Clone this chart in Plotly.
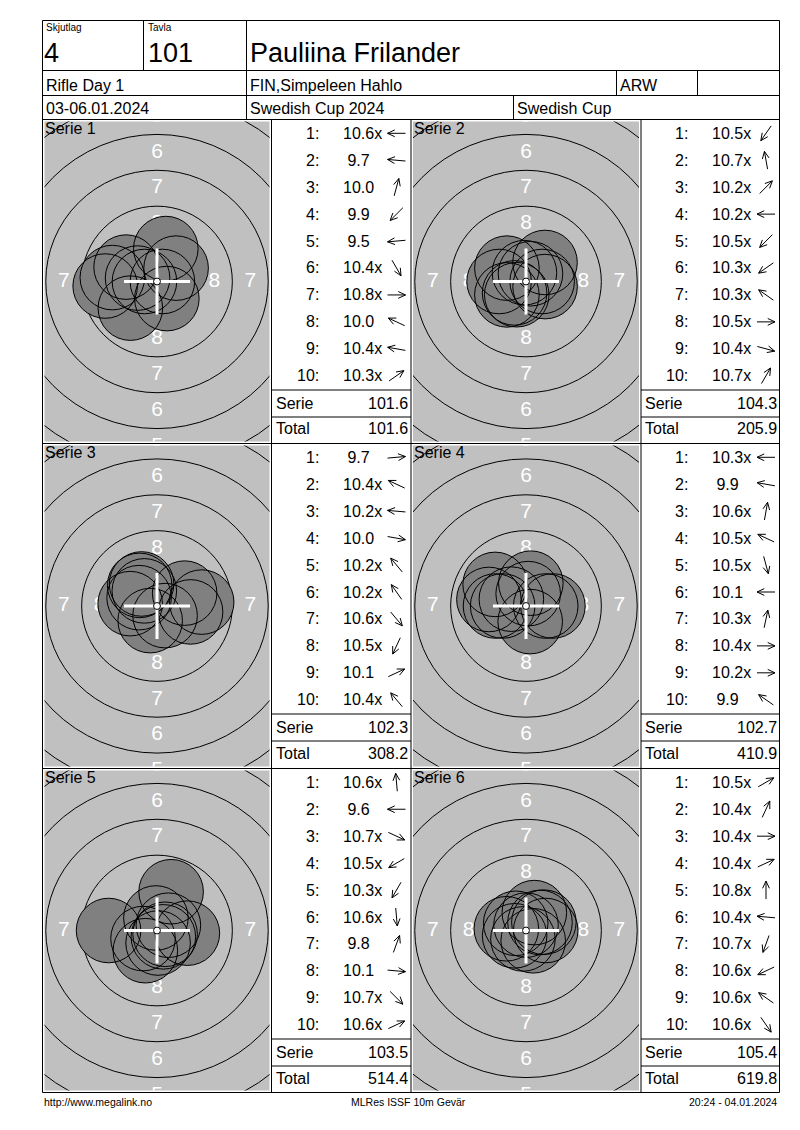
import math
import plotly.graph_objects as go

FONT = "Liberation Sans, Arial, sans-serif"

# ---------------- data ----------------
squad_label = "Skjutlag"
squad = "4"
target_label = "Tavla"
target_no = "101"
shooter = "Pauliina Frilander"
event = "Rifle Day 1"
club = "FIN,Simpeleen Hahlo"
shooter_class = "ARW"
dates = "03-06.01.2024"
competition = "Swedish Cup 2024"
cup = "Swedish Cup"
footer_left = "http://www.megalink.no"
footer_mid = "MLRes ISSF 10m Gevär"
footer_right = "20:24 - 04.01.2024"

series_names = ["Serie 1", "Serie 2", "Serie 3", "Serie 4", "Serie 5", "Serie 6"]

scores_s1 = ["10.6x", "9.7", "10.0", "9.9", "9.5", "10.4x", "10.8x", "10.0", "10.4x", "10.3x"]
scores_s2 = ["10.5x", "10.7x", "10.2x", "10.2x", "10.5x", "10.3x", "10.3x", "10.5x", "10.4x", "10.7x"]
scores_s3 = ["9.7", "10.4x", "10.2x", "10.0", "10.2x", "10.2x", "10.6x", "10.5x", "10.1", "10.4x"]
scores_s4 = ["10.3x", "9.9", "10.6x", "10.5x", "10.5x", "10.1", "10.3x", "10.4x", "10.2x", "9.9"]
scores_s5 = ["10.6x", "9.6", "10.7x", "10.5x", "10.3x", "10.6x", "9.8", "10.1", "10.7x", "10.6x"]
scores_s6 = ["10.5x", "10.4x", "10.4x", "10.4x", "10.8x", "10.4x", "10.7x", "10.6x", "10.6x", "10.6x"]

# shot direction (degrees, 0 = right, 90 = up), read from the arrows
angles_s1 = [180, 175, 75, 225, 185, 300, 0, 155, 170, 35]
angles_s2 = [235, 100, 45, 180, 225, 215, 145, 0, 345, 60]
angles_s3 = [5, 155, 175, 350, 130, 125, 310, 245, 25, 130]
angles_s4 = [180, 170, 80, 155, 285, 180, 78, 0, 0, 145]
angles_s5 = [95, 180, 335, 210, 240, 275, 70, 355, 315, 25]
angles_s6 = [30, 65, 0, 25, 90, 175, 250, 205, 145, 305]

serie_sums = ["101.6", "104.3", "102.3", "102.7", "103.5", "105.4"]
running_totals = ["101.6", "205.9", "308.2", "410.9", "514.4", "619.8"]
ring_labels_vertical = [8, 7, 6, 5]
ring_labels_horizontal = [8, 7]

all_scores = [scores_s1, scores_s2, scores_s3, scores_s4, scores_s5, scores_s6]
all_angles = [angles_s1, angles_s2, angles_s3, angles_s4, angles_s5, angles_s6]

# ---------------- geometry (page pixels) ----------------
W, H = 800, 1130
XL, XR = 42.5, 779.5
YT = 20.5
ROWS = [119.5, 443.5, 768.5, 1092.5]
COLS = [(42.5, 271.5, 411.0), (411.0, 641.0, 779.5)]  # target left, table left, table right
SCALE = 14.35  # px per mm
PELLET_R = 2.25  # mm
GRAY = "#c0c0c0"
SHOT = "#808080"


def px(x):
    return x / W


def py(y):
    return 1 - y / H


shapes = []
annotations = []


def hline(x0, x1, y, w=1):
    shapes.append(dict(type="line", xref="paper", yref="paper", x0=px(x0), x1=px(x1),
                       y0=py(y), y1=py(y), line=dict(color="black", width=w)))


def vline(x, y0, y1, w=1):
    shapes.append(dict(type="line", xref="paper", yref="paper", x0=px(x), x1=px(x),
                       y0=py(y0), y1=py(y1), line=dict(color="black", width=w)))


def text(x, y, s, size, anchor="left", color="black"):
    annotations.append(dict(xref="paper", yref="paper", x=px(x), y=py(y), text=s,
                            showarrow=False, xanchor=anchor, yanchor="middle",
                            font=dict(family=FONT, size=size, color=color)))


# header frame
hline(XL, XR, YT)
hline(XL, XR, 70.5)
hline(XL, XR, 95.5)
vline(XL, YT, ROWS[-1])
vline(XR, YT, ROWS[-1])
vline(143.5, YT, 70.5)
vline(246.5, YT, 119.5)
vline(616.5, 70.5, 95.5)
vline(697.5, 70.5, 95.5)
vline(513.5, 95.5, 119.5)

text(44, 28, squad_label, 10)
text(42, 53, squad, 27)
text(146, 28, target_label, 10)
text(146, 53, target_no, 27)
text(248, 53, shooter, 27)
text(44, 85, event, 16)
text(248, 85, club, 16)
text(618, 85, shooter_class, 16)
text(44, 109, dates, 16)
text(248, 109, competition, 16)
text(515, 109, cup, 16)

# footer
text(42, 1102, footer_left, 10.5)
text(408, 1102, footer_mid, 10.5, anchor="center")
text(779, 1102, footer_right, 10.5, anchor="right")

# grid
for r in ROWS:
    hline(XL, XR, r)
for c in COLS:
    vline(c[1], ROWS[0], ROWS[-1])
vline(COLS[1][0], ROWS[0], ROWS[-1])

fig = go.Figure()
layout_axes = {}

for k in range(6):
    row, col = divmod(k, 2)
    tx0, tbl_l, tbl_r = COLS[col]
    top, bot = ROWS[row], ROWS[row + 1]
    # target panel
    x0, x1 = tx0 + 2, tbl_l - 2
    y0, y1 = top + 2, bot - 2
    cx, cy = (tx0 + tbl_l) / 2, (top + bot) / 2
    n = k + 2
    xa, ya = f"xaxis{n}", f"yaxis{n}"
    xr, yr = f"x{n}", f"y{n}"
    layout_axes[xa] = dict(domain=[px(x0), px(x1)], range=[(x0 - cx) / SCALE, (x1 - cx) / SCALE],
                           visible=False, fixedrange=True, anchor=yr)
    layout_axes[ya] = dict(domain=[py(y1), py(y0)], range=[(cy - y1) / SCALE, (cy - y0) / SCALE],
                           visible=False, fixedrange=True, anchor=xr)

    # rings
    for ring in range(1, 10):
        rr = 0.25 + (10 - ring) * 2.5
        shapes.append(dict(type="circle", xref=xr, yref=yr, x0=-rr, x1=rr, y0=-rr, y1=rr,
                           line=dict(color="black", width=1), layer="below"))
    # ring labels
    lx, ly, lt = [], [], []
    for v in ring_labels_vertical:
        rr = 0.25 + (10 - v) * 2.5 - 1.25
        for ddy in (rr, -rr):
            lx.append(0)
            ly.append(ddy)
            lt.append(str(v))
    for v in ring_labels_horizontal:
        rr = 0.25 + (10 - v) * 2.5 - 1.25
        for ddx in (rr, -rr):
            lx.append(ddx)
            ly.append(0)
            lt.append(str(v))
    fig.add_trace(go.Scatter(x=lx, y=ly, text=lt, mode="text", xaxis=xr, yaxis=yr,
                             textfont=dict(family=FONT, size=21, color="white"),
                             cliponaxis=True, hoverinfo="skip", showlegend=False))

    # shots
    centers = []
    for s, a in zip(all_scores[k], all_angles[k]):
        val = float(s.rstrip("x"))
        d = (10.95 - val) * 2.5
        centers.append((d * math.cos(math.radians(a)), d * math.sin(math.radians(a))))
    for (sx, sy) in centers:
        shapes.append(dict(type="circle", xref=xr, yref=yr, x0=sx - PELLET_R, x1=sx + PELLET_R,
                           y0=sy - PELLET_R, y1=sy + PELLET_R, fillcolor=SHOT,
                           line=dict(width=0), layer="above"))
    for (sx, sy) in centers:
        shapes.append(dict(type="circle", xref=xr, yref=yr, x0=sx - PELLET_R, x1=sx + PELLET_R,
                           y0=sy - PELLET_R, y1=sy + PELLET_R,
                           line=dict(color="black", width=1), layer="above"))
    # crosshair
    ch = 2.3
    shapes.append(dict(type="line", xref=xr, yref=yr, x0=-ch, x1=ch, y0=0, y1=0,
                       line=dict(color="white", width=3), layer="above"))
    shapes.append(dict(type="line", xref=xr, yref=yr, x0=0, x1=0, y0=-ch, y1=ch,
                       line=dict(color="white", width=3), layer="above"))
    cr = 0.24
    shapes.append(dict(type="circle", xref=xr, yref=yr, x0=-cr, x1=cr, y0=-cr, y1=cr,
                       fillcolor="white", line=dict(color="black", width=1), layer="above"))

    # serie label
    text(tx0 + 0.5, top + 9, series_names[k], 16)

    # table
    for i, (s, a) in enumerate(zip(all_scores[k], all_angles[k])):
        ry = top + 13.8 + 26.94 * i
        text(tbl_l + 49, ry, f"{i + 1}:", 16, anchor="right")
        shown = s if len(s.rstrip("x")) >= 4 else "\u00a0" + s
        text(tbl_l + 69, ry, shown, 16)
        # arrow
        acx, acy = tbl_l + 125, ry
        L = 18
        ux, uy = math.cos(math.radians(a)), -math.sin(math.radians(a))
        hx, hy = acx + ux * L / 2, acy + uy * L / 2
        tx_, ty_ = acx - ux * L / 2, acy - uy * L / 2
        wings = []
        for sgn in (1, -1):
            ang = math.radians(a + 180 + sgn * 25)
            wings.append((hx + 8 * math.cos(ang), hy - 8 * math.sin(ang)))
        path = (f"M{px(tx_)},{py(ty_)} L{px(hx)},{py(hy)} "
                f"M{px(wings[0][0])},{py(wings[0][1])} L{px(hx)},{py(hy)} "
                f"L{px(wings[1][0])},{py(wings[1][1])}")
        shapes.append(dict(type="path", xref="paper", yref="paper", path=path,
                           line=dict(color="black", width=1)))
    hline(tbl_l, tbl_r, top + 270.5)
    hline(tbl_l, tbl_r, top + 297.5)
    text(tbl_l + 2, top + 284, "Serie", 16)
    text(tbl_r - 1, top + 284, serie_sums[k], 16, anchor="right")
    text(tbl_l + 2, top + 309.5, "Total", 16)
    text(tbl_r - 1, top + 309.5, running_totals[k], 16, anchor="right")

fig.update_layout(
    width=W, height=H, margin=dict(l=0, r=0, t=0, b=0),
    paper_bgcolor="white", plot_bgcolor=GRAY,
    shapes=shapes, annotations=annotations, showlegend=False,
    font=dict(family=FONT),
    **layout_axes,
)

fig.write_html("out.html", config={"displayModeBar": False},
               post_script="document.body.style.margin='0';document.body.style.overflow='hidden';")
